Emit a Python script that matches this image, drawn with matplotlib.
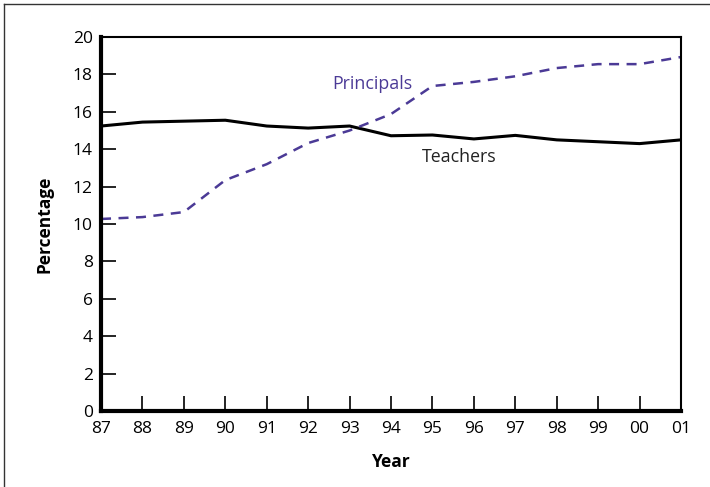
import numpy as np
from matplotlib import pyplot as plt
from matplotlib.lines import Line2D

plt.rcParams["font.family"] = ["Open Sans", "DejaVu Sans"]

# data
years = ["87", "88", "89", "90", "91", "92", "93", "94",
         "95", "96", "97", "98", "99", "00", "01"]
teachers = [15.24, 15.45, 15.5, 15.55, 15.24, 15.13, 15.24, 14.72,
            14.76, 14.55, 14.74, 14.5, 14.4, 14.3, 14.5]
principals = [10.27, 10.37, 10.64, 12.35, 13.2, 14.33, 15.0, 15.88,
              17.38, 17.6, 17.9, 18.34, 18.55, 18.55, 18.93]

purple = "#4b3a96"
x = np.arange(len(years))

fig = plt.figure(figsize=(7.1, 4.87), dpi=100)
ax = fig.add_axes([0.1423, 0.156, 0.8169, 0.768])

ax.plot(x, teachers, color="black", lw=2.2, solid_joinstyle="round")
ax.plot(x, principals, color=purple, lw=1.8, dashes=(4, 3))

ax.text(6.55, 17.5, "Principals", color=purple, fontsize=12.8,
        ha="center", va="center")
ax.text(8.65, 13.6, "Teachers", color="#222222", fontsize=12.8,
        ha="center", va="center")

ax.set_xlim(0, len(years) - 1)
ax.set_ylim(0, 20)
ax.set_xticks(x)
ax.set_xticklabels(years)
ax.set_yticks(np.arange(0, 21, 2))
ax.tick_params(direction="in", length=11, width=1.2, labelsize=12.5,
               colors="black", pad=6)
ax.tick_params(axis="x", pad=7)

for side in ["left", "bottom"]:
    ax.spines[side].set_linewidth(3)
for side in ["top", "right"]:
    ax.spines[side].set_linewidth(1.5)

ax.set_xlabel("Year", fontsize=12.5, fontweight="bold", labelpad=12)
ax.set_ylabel("Percentage", fontsize=12.5, fontweight="bold", labelpad=14)

# frame around the figure (top and left only, as in the reference)
fig.add_artist(Line2D([4 / 710, 1], [1 - 4 / 487, 1 - 4 / 487],
                      transform=fig.transFigure, color="#333333", lw=1))
fig.add_artist(Line2D([4 / 710, 4 / 710], [0, 1 - 4 / 487],
                      transform=fig.transFigure, color="#333333", lw=1))

fig.savefig("out.png", dpi=100)
